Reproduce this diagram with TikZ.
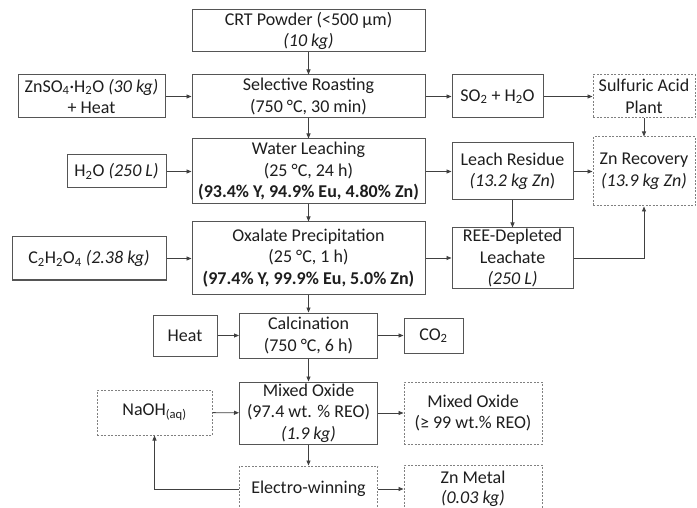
\documentclass[tikz,border=0pt]{standalone}
\usepackage{fontspec}
\setmainfont{Carlito}
\usetikzlibrary{arrows.meta}
\definecolor{boxc}{HTML}{555555}
\definecolor{linec}{HTML}{404040}
\definecolor{txt}{HTML}{1E1E1E}
\newcommand{\sbs}[1]{\textsubscript{#1}}
\begin{document}
\begin{tikzpicture}[x=1pt,y=-1pt,
  box/.style={draw=boxc, line width=1pt, fill=white, align=center, inner sep=0pt,
    font=\fontsize{18}{21.5}\selectfont, text=txt},
  dbox/.style={box, draw=gray, dash pattern=on 2pt off 1.5pt},
  arr/.style={-{Triangle[length=5pt,width=4pt]}, line width=0.9pt, draw=linec}]
\useasboundingbox[fill=white] (0,0) rectangle (697,508);
% main column
\node[box, minimum width=233pt, minimum height=42pt] (crt) at (308.5,31) {CRT Powder (<500 µm)\\\textit{(10 kg)}};
\node[box, minimum width=233pt, minimum height=43pt] (roast) at (308.5,96.5) {Selective Roasting\\(750 °C, 30 min)};
\node[box, minimum width=233pt, minimum height=65pt] (leach) at (308.5,171.5) {Water Leaching\\(25 °C, 24 h)\\\textbf{(93.4\% Y, 94.9\% Eu, 4.80\% Zn)}};
\node[box, minimum width=233pt, minimum height=72pt] (oxal) at (308.5,258) {Oxalate Precipitation\\(25 °C, 1 h)\\\textbf{(97.4\% Y, 99.9\% Eu, 5.0\% Zn)}};
\node[box, minimum width=138pt, minimum height=45pt] (calc) at (308.5,335.5) {Calcination\\(750 °C, 6 h)};
\node[box, minimum width=138pt, minimum height=62pt] (mox) at (308.5,413) {Mixed Oxide\\(97.4 wt. \% REO)\\\textit{(1.9 kg)}};
\node[dbox, minimum width=138pt, minimum height=46pt] (elec) at (308.5,489) {Electro-winning};
% left inputs
\node[box, minimum width=147pt, minimum height=43pt] (znso4) at (91.5,96.5) {ZnSO\sbs{4}·H\sbs{2}O \textit{(30 kg)}\\+ Heat};
\node[box, minimum width=99pt, minimum height=33pt] (h2o) at (116.5,171.5) {H\sbs{2}O \textit{(250 L)}};
\node[box, minimum width=154pt, minimum height=43pt] (c2) at (89,258.5) {C\sbs{2}H\sbs{2}O\sbs{4} \textit{(2.38 kg)}};
\node[box, minimum width=64pt, minimum height=41pt] (heat) at (185,335.5) {Heat};
\node[dbox, minimum width=115pt, minimum height=45pt] (naoh) at (154.5,412.5) {NaOH\sbs{(aq)}};
% right outputs
\node[box, minimum width=91pt, minimum height=43pt] (so2) at (497.5,96.5) {SO\sbs{2} + H\sbs{2}O};
\node[dbox, minimum width=102pt, minimum height=43pt] (sap) at (644,96.5) {Sulfuric Acid\\Plant};
\node[box, minimum width=121pt, minimum height=57pt] (resid) at (512.5,171.5) {Leach Residue\\\textit{(13.2 kg Zn})};
\node[dbox, minimum width=102pt, minimum height=69pt] (znrec) at (644,171.5) {Zn Recovery\\\textit{(13.9 kg Zn)}};
\node[box, minimum width=121pt, minimum height=60pt] (ree) at (512.5,258) {REE-Depleted\\Leachate\\\textit{(250 L)}};
\node[box, minimum width=59pt, minimum height=35pt] (co2) at (433.5,335.5) {CO\sbs{2}};
\node[dbox, minimum width=138pt, minimum height=62pt] (mox99) at (473,413) {Mixed Oxide\\(≥ 99 wt.\% REO)};
\node[dbox, minimum width=138pt, minimum height=48pt, font=\fontsize{18}{20}\selectfont] (znm) at (473,489) {Zn Metal\\\textit{(0.03 kg)}};
% connectors main column
\draw[arr] (crt) -- (roast);
\draw[arr] (roast) -- (leach);
\draw[arr] (leach) -- (oxal);
\draw[arr] (oxal) -- (calc);
\draw[arr] (calc) -- (mox);
\draw[arr] (mox) -- (elec);
% inputs
\draw[arr] (znso4) -- (roast);
\draw[arr] (h2o) -- (leach);
\draw[arr] (c2) -- (c2 -| oxal.west);
\draw[arr] (heat) -- (calc);
\draw[arr] (naoh) -- (mox);
\draw[arr] (elec.west) -| (naoh.south);
% outputs
\draw[arr] (roast) -- (so2);
\draw[arr] (so2) -- (sap);
\draw[arr] (sap) -- (znrec);
\draw[arr] (leach) -- (resid);
\draw[arr] (resid) -- (znrec);
\draw[arr] (resid) -- (ree);
\draw[arr] (oxal) -- (ree);
\draw[arr] (ree.east) -| (znrec.south);
\draw[arr] (calc) -- (co2);
\draw[arr] (mox) -- (mox99);
\draw[arr] (elec) -- (elec -| znm.west);
\end{tikzpicture}
\end{document}
